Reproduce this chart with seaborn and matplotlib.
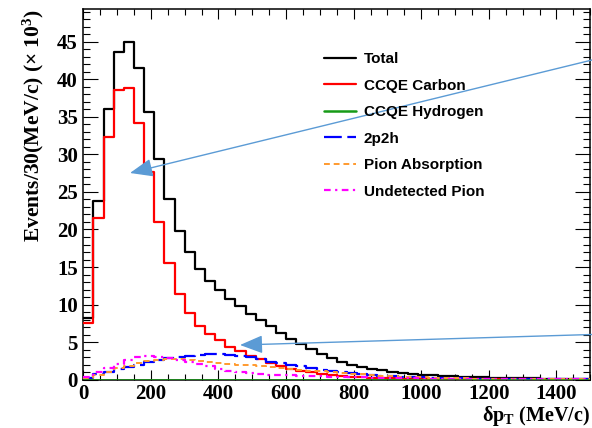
import numpy as np
import pandas as pd
import matplotlib
matplotlib.use("Agg")
import matplotlib.pyplot as plt
import seaborn as sns

# 30 MeV/c bins from 0 to 1500 MeV/c
bin_edges = list(range(0, 1501, 30))
bin_centers = np.arange(15, 1500, 30)

# events per bin (x 10^3)
total = [8.2, 23.8, 36.0, 43.6, 45.0, 41.5, 35.7, 29.4, 24.0, 19.8,
         16.95, 14.8, 13.2, 12.0, 10.8, 9.8, 8.8, 7.9, 7.1, 6.2,
         5.4, 4.75, 4.05, 3.4, 2.85, 2.4, 2.0, 1.7, 1.45, 1.22,
         1.03, 0.88, 0.75, 0.65, 0.57, 0.5, 0.44, 0.38, 0.33, 0.29,
         0.25, 0.22, 0.19, 0.17, 0.15, 0.13, 0.11, 0.1, 0.09, 0.08]
ccqe_carbon = [7.6, 21.5, 32.3, 38.6, 38.8, 34.2, 27.7, 21.0, 15.5, 11.4,
               8.9, 7.2, 6.1, 5.3, 4.4, 3.8, 3.2, 2.7, 2.2, 1.77,
               1.4, 1.15, 0.95, 0.75, 0.6, 0.48, 0.38, 0.3, 0.24, 0.19,
               0.15, 0.12, 0.1, 0.08, 0.06, 0.05, 0.04, 0.03, 0.03, 0.02,
               0.02, 0.01, 0.01, 0.01, 0.01, 0.0, 0.0, 0.0, 0.0, 0.0]
ccqe_hydrogen = [0.0, 0.0, 0.0, 0.0, 0.0, 0.0, 0.0, 0.0, 0.0, 0.0,
                 0.0, 0.0, 0.0, 0.0, 0.0, 0.0, 0.0, 0.0, 0.0, 0.0,
                 0.0, 0.0, 0.0, 0.0, 0.0, 0.0, 0.0, 0.0, 0.0, 0.0,
                 0.0, 0.0, 0.0, 0.0, 0.0, 0.0, 0.0, 0.0, 0.0, 0.0,
                 0.0, 0.0, 0.0, 0.0, 0.0, 0.0, 0.0, 0.0, 0.0, 0.0]
two_p_two_h = [0.25, 0.7, 1.05, 1.35, 1.65, 1.95, 2.3, 2.6, 2.85, 3.05,
               3.2, 3.3, 3.35, 3.35, 3.3, 3.2, 3.05, 2.75, 2.4, 2.15,
               2.0, 1.85, 1.5, 1.3, 1.13, 0.95, 0.83, 0.7, 0.6, 0.5,
               0.43, 0.37, 0.32, 0.27, 0.23, 0.2, 0.17, 0.14, 0.12, 0.1,
               0.09, 0.07, 0.06, 0.05, 0.04, 0.04, 0.03, 0.03, 0.02, 0.02]
pion_absorption = [0.2, 0.65, 1.05, 1.5, 1.85, 2.2, 2.45, 2.65, 2.8, 2.75,
                   2.6, 2.45, 2.3, 2.2, 2.1, 2.0, 1.95, 1.85, 1.7, 1.6,
                   1.4, 1.3, 1.2, 1.08, 0.97, 0.87, 0.77, 0.68, 0.6, 0.52,
                   0.45, 0.39, 0.33, 0.28, 0.24, 0.2, 0.17, 0.14, 0.12, 0.1,
                   0.09, 0.07, 0.06, 0.05, 0.04, 0.04, 0.03, 0.03, 0.02, 0.02]
undetected_pion = [0.4, 1.0, 1.6, 2.1, 2.6, 2.95, 3.1, 3.05, 2.9, 2.65,
                   2.4, 2.1, 1.75, 1.4, 1.15, 0.95, 0.85, 0.72, 0.65, 0.6,
                   0.56, 0.52, 0.48, 0.44, 0.4, 0.35, 0.3, 0.27, 0.24, 0.2,
                   0.18, 0.16, 0.14, 0.12, 0.1, 0.09, 0.08, 0.07, 0.06, 0.05,
                   0.04, 0.04, 0.03, 0.03, 0.02, 0.02, 0.02, 0.01, 0.01, 0.01]

labels = ['Total', 'CCQE Carbon', 'CCQE Hydrogen', '2p2h',
          'Pion Absorption', 'Undetected Pion']
series = [total, ccqe_carbon, ccqe_hydrogen, two_p_two_h,
          pion_absorption, undetected_pion]

df = pd.DataFrame({'dpt': np.tile(bin_centers, len(labels)),
                   'events': np.concatenate(series),
                   'sample': np.repeat(labels, len(bin_centers))})

styles = {
    'Total': dict(color='black', linestyle='-', linewidth=1.6),
    'CCQE Carbon': dict(color='#ff0000', linestyle='-', linewidth=1.6),
    'CCQE Hydrogen': dict(color='#179a17', linestyle='-', linewidth=1.8),
    '2p2h': dict(color='#0000ff', linestyle=(0, (8, 2.5)), linewidth=1.6),
    'Pion Absorption': dict(color='#ff9a2e', linestyle=(0, (3, 2)), linewidth=1.4),
    'Undetected Pion': dict(color='#ff00ff', linestyle=(0, (3, 2, 1, 2)), linewidth=1.6),
}

sns.set_style("ticks")
plt.rcParams['font.family'] = ['Liberation Serif', 'DejaVu Serif']
plt.rcParams['font.weight'] = 'bold'
plt.rcParams['axes.labelweight'] = 'bold'
plt.rcParams['mathtext.fontset'] = 'custom'
plt.rcParams['mathtext.rm'] = 'Liberation Serif:bold'
plt.rcParams['mathtext.bf'] = 'Liberation Serif:bold'
plt.rcParams['mathtext.it'] = 'Liberation Serif:bold:italic'
for key in ['text.color', 'axes.labelcolor', 'axes.edgecolor',
            'xtick.color', 'ytick.color']:
    plt.rcParams[key] = 'black'

fig = plt.figure(figsize=(5.92, 4.28), dpi=100)
ax = fig.add_axes([0.1407, 0.1133, 0.8564, 0.8657])

for name in labels:
    sub = df[df['sample'] == name]
    sns.histplot(data=sub, x='dpt', weights='events', bins=bin_edges,
                 element='step', fill=False, ax=ax, label=name,
                 zorder=5 if name == 'CCQE Hydrogen' else 3,
                 **styles[name])

ax.set_xlim(0, 1500)
ax.set_ylim(0, 49.4)
ax.set_xticks(np.arange(0, 1401, 200))
ax.set_xticks(np.arange(0, 1501, 50), minor=True)
ax.set_yticks(np.arange(0, 46, 5))
ax.set_yticks(np.arange(0, 50, 1), minor=True)

ax.tick_params(axis='both', which='both', direction='in', top=True, right=True,
               width=0.8, labelsize=15)
ax.tick_params(axis='x', which='major', length=7.5, pad=3)
ax.tick_params(axis='x', which='minor', length=4)
ax.tick_params(axis='y', which='major', length=10.5, pad=4)
ax.tick_params(axis='y', which='minor', length=5)
for spine in ax.spines.values():
    spine.set_linewidth(1.1)

ax.set_xlabel(r'δp$_{\mathrm{T}}$ (MeV/c)', fontsize=14.5, fontweight='bold',
              loc='right', labelpad=0)
ax.set_ylabel(r'Events/30(MeV/c) (× 10$^{3}$)', fontsize=15.5, fontweight='bold',
              loc='top', labelpad=8)

ax.legend(loc='upper left', bbox_to_anchor=(324 / 592, 1 - 52 / 428),
          bbox_transform=fig.transFigure, frameon=False,
          prop={'family': 'Liberation Sans', 'weight': 'bold', 'size': 11},
          handlelength=2.1, handletextpad=0.5, labelspacing=0.82,
          borderpad=0, borderaxespad=0)

# annotation arrows pointing at the distributions
arrow_color = '#5b9bd5'
arrow_kw = dict(arrowstyle='-|>,head_length=1.0,head_width=0.4',
                color=arrow_color, lw=1.0, shrinkA=0, shrinkB=0,
                mutation_scale=14)
ax.annotate('', xy=(130, 428 - 173), xycoords='figure pixels',
            xytext=(592, 428 - 60), textcoords='figure pixels',
            arrowprops=arrow_kw, annotation_clip=False)
ax.annotate('', xy=(240, 428 - 345), xycoords='figure pixels',
            xytext=(592, 428 - 334.5), textcoords='figure pixels',
            arrowprops=arrow_kw, annotation_clip=False)

fig.savefig('out.png', dpi=100)
